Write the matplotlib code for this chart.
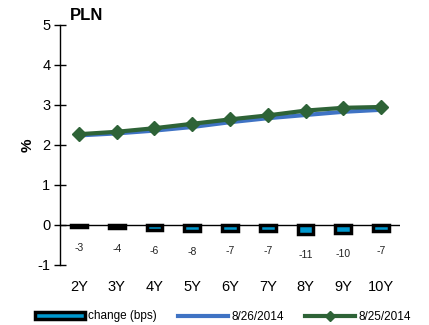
import matplotlib
matplotlib.use("Agg")
import matplotlib.pyplot as plt
from matplotlib.patches import Patch
from matplotlib.lines import Line2D

plt.rcParams["font.family"] = ["Liberation Sans", "DejaVu Sans"]
plt.rcParams["axes.unicode_minus"] = False

tenors = ["2Y", "3Y", "4Y", "5Y", "6Y", "7Y", "8Y", "9Y", "10Y"]
yield_0825 = [2.27, 2.33, 2.42, 2.53, 2.64, 2.74, 2.86, 2.93, 2.95]
yield_0826 = [2.24, 2.29, 2.36, 2.45, 2.57, 2.67, 2.75, 2.83, 2.88]
change_bps = [-3, -4, -6, -8, -7, -7, -11, -10, -7]

BAR_BLUE = "#0098CE"
LINE_BLUE = "#3F73C4"
GREEN = "#2E6337"

fig = plt.figure(figsize=(4.29, 3.25), dpi=100)
ax = fig.add_axes([60 / 429, 60 / 325, 340 / 429, 240 / 325])

x = list(range(len(tenors)))
# bars drawn on the % axis, scaled so 50 bps = 1 unit
bar_h = [c / 50 for c in change_bps]
ax.bar(x, bar_h, width=0.42, color=BAR_BLUE, edgecolor="black",
       linewidth=2.5, zorder=2)
for xi, h, c in zip(x, bar_h, change_bps):
    ax.text(xi, h - 0.52, str(c), ha="center", va="center", fontsize=7.5,
            color="#222222")

ax.plot(x, yield_0826, color=LINE_BLUE, lw=3, zorder=3)
ax.plot(x, yield_0825, color=GREEN, lw=3, marker="D", markersize=7,
        zorder=4)

ax.set_xlim(-0.5, 8.5)
ax.set_ylim(-1, 5)
ax.set_yticks([-1, 0, 1, 2, 3, 4, 5])
ax.tick_params(axis="y", direction="inout", length=8, width=1,
               labelsize=10.5, pad=3)
ax.set_xticks(x)
ax.set_xticklabels(tenors, fontsize=10.5)
ax.tick_params(axis="x", length=0, pad=11)
ax.axhline(0, color="black", lw=1, zorder=1)
for s in ["top", "right", "bottom"]:
    ax.spines[s].set_visible(False)
ax.spines["left"].set_linewidth(1)
ax.set_ylabel("%", fontsize=11, fontweight="bold", labelpad=2)
ax.text(0.03, 1.01, "PLN", transform=ax.transAxes, fontsize=12,
        fontweight="bold", va="bottom", ha="left")

handles = [
    Patch(facecolor=BAR_BLUE, edgecolor="black", linewidth=2.5,
          label="change (bps)"),
    Line2D([], [], color=LINE_BLUE, lw=3, label="8/26/2014"),
    Line2D([], [], color=GREEN, lw=3, marker="D", markersize=5,
           label="8/25/2014"),
]
fig.legend(handles=handles, loc="lower center", ncol=3,
           bbox_to_anchor=(0.52, -0.025), frameon=False, fontsize=8.5,
           handlelength=4.2, handleheight=0.5, columnspacing=1.8,
           handletextpad=0.3)

fig.savefig("out.png", dpi=100)
